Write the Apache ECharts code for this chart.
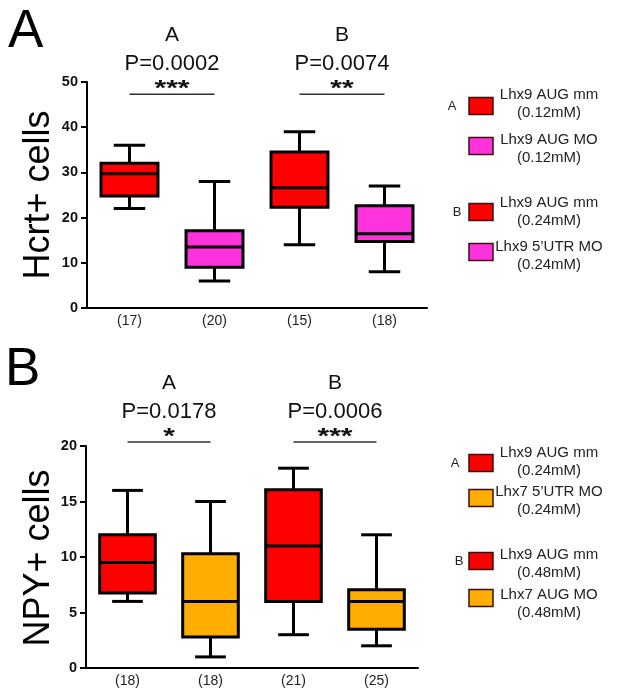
<!DOCTYPE html>
<html>
<head>
<meta charset="utf-8">
<title>Hcrt+ / NPY+ cells</title>
<script src="https://cdn.jsdelivr.net/npm/echarts@6/dist/echarts.min.js"></script>
<style>
html, body { margin: 0; padding: 0; background: #fff; }
#main { width: 617px; height: 698px; }
</style>
</head>
<body>
<div id="main"></div>
<script>
var FONT = 'Liberation Sans, Arial, sans-serif';

// ---- panel A : Hcrt+ cells ----
var hcrtCounts = ['(17)', '(20)', '(15)', '(18)'];
// low whisker, q1, median, q3, high whisker
var hcrtBoxes = [
    [22, 24.8, 29.7, 32, 36],
    [6, 9, 13.5, 17.1, 28],
    [14, 22.3, 26.6, 34.5, 39],
    [8, 14.7, 16.4, 22.6, 27]
];
var hcrtColors = ['#ff0000', '#ff33dd', '#ff0000', '#ff33dd'];
var hcrtTicks = [0, 10, 20, 30, 40, 50];
// from category, to category, line height
var hcrtSigLines = [[0, 1, 47.3], [2, 3, 47.3]];
var hcrtSigGroups = ['A', 'B'];
var hcrtSigP = ['P=0.0002', 'P=0.0074'];
var hcrtSigStars = ['***', '**'];
var hcrtLegendNames = ['Lhx9 AUG mm', 'Lhx9 AUG MO', 'Lhx9 AUG mm', 'Lhx9 5\u2019UTR MO'];
var hcrtLegendDoses = ['(0.12mM)', '(0.12mM)', '(0.24mM)', '(0.24mM)'];
var hcrtLegendGroups = ['A', '', 'B', ''];

// ---- panel B : NPY+ cells ----
var npyCounts = ['(18)', '(18)', '(21)', '(25)'];
var npyBoxes = [
    [6, 6.75, 9.5, 12, 16],
    [1, 2.8, 6, 10.3, 15],
    [3, 6, 11, 16.05, 18],
    [2, 3.5, 6, 7.05, 12]
];
var npyColors = ['#ff0000', '#ffad00', '#ff0000', '#ffad00'];
var npyTicks = [0, 5, 10, 15, 20];
var npySigLines = [[0, 1, 20.37], [2, 3, 20.37]];
var npySigGroups = ['A', 'B'];
var npySigP = ['P=0.0178', 'P=0.0006'];
var npySigStars = ['*', '***'];
var npyLegendNames = ['Lhx9 AUG mm', 'Lhx7 5\u2019UTR MO', 'Lhx9 AUG mm', 'Lhx7 AUG MO'];
var npyLegendDoses = ['(0.24mM)', '(0.24mM)', '(0.48mM)', '(0.48mM)'];
var npyLegendGroups = ['A', '', 'B', ''];

function boxRenderer(colors) {
    return function (params, api) {
        var i = api.value(0);
        var lo = api.coord([i, api.value(1)]);
        var q1 = api.coord([i, api.value(2)]);
        var md = api.coord([i, api.value(3)]);
        var q3 = api.coord([i, api.value(4)]);
        var hi = api.coord([i, api.value(5)]);
        var band = api.size([1, 0])[0];
        var bw = band * 0.67, cw = band * 0.37;
        var cx = lo[0];
        var line = {stroke: '#000', lineWidth: 3};
        return {
            type: 'group',
            children: [
                {type: 'line', shape: {x1: cx, y1: hi[1], x2: cx, y2: lo[1]}, style: line},
                {type: 'line', shape: {x1: cx - cw / 2, y1: hi[1], x2: cx + cw / 2, y2: hi[1]}, style: line},
                {type: 'line', shape: {x1: cx - cw / 2, y1: lo[1], x2: cx + cw / 2, y2: lo[1]}, style: line},
                {type: 'rect', shape: {x: cx - bw / 2, y: q3[1], width: bw, height: q1[1] - q3[1]},
                    style: {fill: colors[params.dataIndex], stroke: '#000', lineWidth: 3}},
                {type: 'line', shape: {x1: cx - bw / 2, y1: md[1], x2: cx + bw / 2, y2: md[1]}, style: line}
            ]
        };
    };
}

function sigRenderer(groups, ps, stars) {
    return function (params, api) {
        var a = api.coord([api.value(0), api.value(2)]);
        var b = api.coord([api.value(1), api.value(2)]);
        var mx = (a[0] + b[0]) / 2, y = a[1];
        var k = params.dataIndex;
        return {
            type: 'group',
            children: [
                {type: 'line', shape: {x1: a[0], y1: y, x2: b[0], y2: y}, style: {stroke: '#333', lineWidth: 1.5}},
                // asterisks are a little flatter than the font's own glyph
                {type: 'text', x: mx, y: y - 5, scaleY: 0.72,
                    style: {text: stars[k], x: 0, y: 0, textAlign: 'center', textVerticalAlign: 'middle',
                        fontSize: 30, fontWeight: 'bold', fontFamily: FONT, fill: '#111'}},
                {type: 'text', style: {text: ps[k], x: mx, y: y - 30, textAlign: 'center', textVerticalAlign: 'middle',
                    fontSize: 22, fontFamily: FONT, fill: '#111'}},
                {type: 'text', style: {text: groups[k], x: mx, y: y - 59, textAlign: 'center', textVerticalAlign: 'middle',
                    fontSize: 21, fontFamily: FONT, fill: '#111'}}
            ]
        };
    };
}

function legendGraphics(names, doses, groups, colors, lineTops, rectMids, groupX) {
    var out = [];
    for (var i = 0; i < names.length; i++) {
        var c = colors[i % 2 === 0 ? 0 : 1];
        out.push({type: 'rect', shape: {x: 469, y: rectMids[i] - 8.5, width: 24, height: 17},
            style: {fill: c, stroke: '#3a1010', lineWidth: 1.5}});
        out.push({type: 'text', style: {text: names[i] + '\n' + doses[i], x: 549, y: lineTops[i] - 9,
            textAlign: 'center', fontSize: 15, lineHeight: 18, fontFamily: FONT, fill: '#222'}});
        if (groups[i]) {
            out.push({type: 'text', style: {text: groups[i], x: groupX[i], y: rectMids[i], textAlign: 'center',
                textVerticalAlign: 'middle', fontSize: 13, fontFamily: FONT, fill: '#222'}});
        }
    }
    return out;
}

// rotated axis title, centred on the plot height
function axisTitle(text, x, y) {
    return {type: 'text', x: x, y: y, rotation: Math.PI / 2,
        style: {text: text, textAlign: 'center', textVerticalAlign: 'middle', fontSize: 36, fontFamily: FONT, fill: '#000'}};
}

function yAxisFor(ticks, gridIndex) {
    return {
        type: 'value', gridIndex: gridIndex,
        min: ticks[0], max: ticks[ticks.length - 1], interval: ticks[1] - ticks[0],
        splitLine: {show: false},
        axisLine: {show: true, lineStyle: {color: '#000', width: 2}},
        axisTick: {show: true, length: 6, lineStyle: {color: '#000', width: 2}},
        axisLabel: {fontSize: 14.5, fontWeight: 'bold', fontFamily: FONT, color: '#111', margin: 9}
    };
}

function xAxisFor(cats, gridIndex) {
    return {
        type: 'category', gridIndex: gridIndex, data: cats,
        axisLine: {lineStyle: {color: '#000', width: 2}},
        axisTick: {show: false},
        axisLabel: {fontSize: 14, fontFamily: FONT, color: '#222', margin: 6}
    };
}

function boxData(boxes) {
    return boxes.map(function (b, i) { return [i].concat(b); });
}

var chart = echarts.init(document.getElementById('main'), null, {renderer: 'canvas'});

chart.setOption({
    animation: false,
    backgroundColor: '#fff',
    grid: [
        {left: 87, top: 82, width: 340, height: 226},
        {left: 86, top: 446, width: 332, height: 222}
    ],
    xAxis: [xAxisFor(hcrtCounts, 0), xAxisFor(npyCounts, 1)],
    yAxis: [yAxisFor(hcrtTicks, 0), yAxisFor(npyTicks, 1)],
    series: [
        {type: 'custom', xAxisIndex: 0, yAxisIndex: 0, renderItem: boxRenderer(hcrtColors),
            encode: {x: 0, y: [1, 2, 3, 4, 5]}, data: boxData(hcrtBoxes)},
        {type: 'custom', xAxisIndex: 0, yAxisIndex: 0, clip: false,
            renderItem: sigRenderer(hcrtSigGroups, hcrtSigP, hcrtSigStars),
            encode: {x: [0, 1], y: 2}, data: hcrtSigLines},
        {type: 'custom', xAxisIndex: 1, yAxisIndex: 1, renderItem: boxRenderer(npyColors),
            encode: {x: 0, y: [1, 2, 3, 4, 5]}, data: boxData(npyBoxes)},
        {type: 'custom', xAxisIndex: 1, yAxisIndex: 1, clip: false,
            renderItem: sigRenderer(npySigGroups, npySigP, npySigStars),
            encode: {x: [0, 1], y: 2}, data: npySigLines}
    ],
    graphic: [
        {type: 'text', left: 8, top: 6, style: {text: 'A', fontSize: 53, fontFamily: FONT, fill: '#000'}},
        {type: 'text', left: 5, top: 344, style: {text: 'B', fontSize: 53, fontFamily: FONT, fill: '#000'}},
        axisTitle('Hcrt+ cells', 39, 195),
        axisTitle('NPY+ cells', 39, 558)
    ].concat(
        legendGraphics(hcrtLegendNames, hcrtLegendDoses, hcrtLegendGroups, hcrtColors,
            [95, 140, 203, 247], [106, 146, 212, 252], [452, 0, 457, 0]),
        legendGraphics(npyLegendNames, npyLegendDoses, npyLegendGroups, npyColors,
            [453, 492, 555, 595], [463, 498, 561, 598], [455, 0, 459, 0])
    )
});
</script>
</body>
</html>
